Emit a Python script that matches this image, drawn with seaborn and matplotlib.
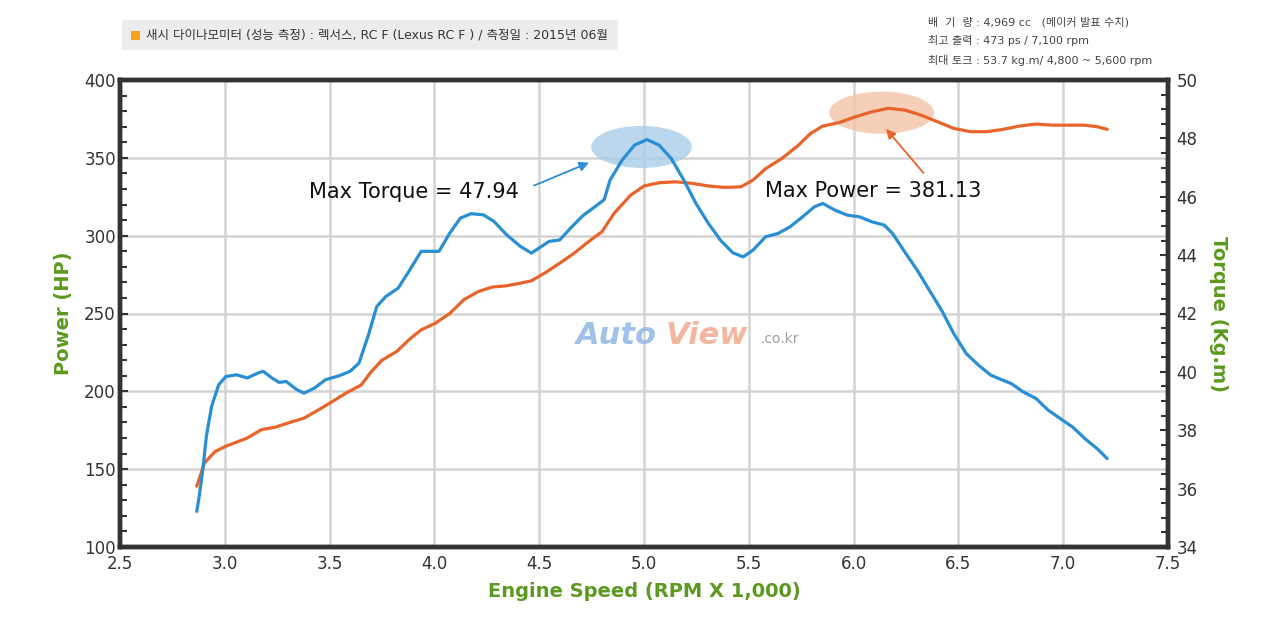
import matplotlib
matplotlib.use("Agg")
import matplotlib.pyplot as plt
import seaborn as sns
import pandas as pd
from matplotlib.patches import Ellipse, FancyBboxPatch, Rectangle
from matplotlib.ticker import MultipleLocator

# ---------------- data ----------------
rpm_power = [2.866, 2.903, 2.954, 3.005, 3.107, 3.175, 3.242, 3.31, 3.378, 3.446, 3.514, 3.58,
             3.65, 3.70, 3.75, 3.82, 3.886, 3.937, 4.005, 4.073, 4.14, 4.208, 4.276, 4.344,
             4.41, 4.463, 4.53, 4.598, 4.666, 4.734, 4.80, 4.857, 4.936, 5.0, 5.072, 5.15,
             5.23, 5.307, 5.385, 5.463, 5.52, 5.58, 5.658, 5.736, 5.795, 5.853, 5.93, 6.01,
             6.088, 6.166, 6.244, 6.32, 6.40, 6.478, 6.557, 6.635, 6.713, 6.79, 6.87, 6.947,
             7.025, 7.10, 7.162, 7.21]
power_hp = [139, 154, 161.4, 164.7, 170, 175.4, 177, 180, 182.8, 188, 193.5, 199,
            204, 212.8, 220, 225.6, 234, 239.5, 243.8, 250, 258.8, 264, 267, 267.8,
            269.5, 271, 276.3, 282.3, 288.7, 296, 302.6, 314.3, 326, 331.9, 334, 334.6,
            333.6, 331.9, 331, 331.4, 335.7, 343, 349.6, 358, 365.7, 370.4, 372.6, 376.4,
            379.6, 381.8, 380.7, 377.5, 373.2, 368.9, 366.8, 366.8, 368.3, 370.4, 371.7, 371,
            371, 371, 370, 368.3]

rpm_torque = [2.866, 2.878, 2.895, 2.912, 2.937, 2.971, 3.005, 3.056, 3.107, 3.158, 3.183, 3.225,
              3.259, 3.293, 3.344, 3.378, 3.429, 3.48, 3.547, 3.598, 3.64, 3.683, 3.725, 3.768,
              3.827, 3.878, 3.937, 3.971, 4.022, 4.073, 4.124, 4.175, 4.234, 4.285, 4.344, 4.41,
              4.463, 4.505, 4.547, 4.598, 4.649, 4.708, 4.768, 4.81, 4.838, 4.896, 4.955, 5.014,
              5.072, 5.13, 5.19, 5.248, 5.307, 5.365, 5.424, 5.473, 5.52, 5.58, 5.639, 5.697,
              5.756, 5.814, 5.853, 5.912, 5.97, 6.029, 6.088, 6.146, 6.186, 6.244, 6.303, 6.361,
              6.42, 6.478, 6.537, 6.596, 6.654, 6.713, 6.752, 6.81, 6.87, 6.928, 6.986, 7.045,
              7.104, 7.162, 7.21]
torque_kgm = [35.22, 35.74, 36.65, 37.79, 38.82, 39.56, 39.84, 39.9, 39.79, 39.96, 40.02, 39.79,
              39.64, 39.67, 39.39, 39.27, 39.45, 39.73, 39.87, 40.02, 40.3, 41.21, 42.24, 42.58,
              42.87, 43.44, 44.13, 44.13, 44.13, 44.75, 45.27, 45.42, 45.38, 45.15, 44.70, 44.30,
              44.07, 44.27, 44.47, 44.52, 44.92, 45.35, 45.67, 45.9, 46.57, 47.26, 47.77, 47.96,
              47.77, 47.31, 46.57, 45.77, 45.09, 44.51, 44.08, 43.94, 44.17, 44.63, 44.74, 44.97,
              45.31, 45.66, 45.77, 45.54, 45.37, 45.31, 45.14, 45.03, 44.74, 44.11, 43.49, 42.8,
              42.11, 41.31, 40.63, 40.23, 39.89, 39.71, 39.6, 39.31, 39.09, 38.69, 38.4, 38.11,
              37.71, 37.37, 37.03]

x_ticks = [2.5, 3.0, 3.5, 4.0, 4.5, 5.0, 5.5, 6.0, 6.5, 7.0, 7.5]
hp_ticks = [100, 150, 200, 250, 300, 350, 400]
tq_ticks = [34, 36, 38, 40, 42, 44, 46, 48, 50]

header_text = "새시 다이나모미터 (성능 측정) : 렉서스, RC F (Lexus RC F ) / 측정일 : 2015년 06월"
spec_lines = ["배  기  량 : 4,969 cc   (메이커 발표 수치)",
              "최고 출력 : 473 ps / 7,100 rpm",
              "최대 토크 : 53.7 kg.m/ 4,800 ~ 5,600 rpm"]
max_torque_label = "Max Torque = 47.94"
max_power_label = "Max Power = 381.13"

# ---------------- style ----------------
sns.set_theme(style="white")
plt.rcParams['font.family'] = ['DejaVu Sans', 'Noto Sans CJK KR']

ORANGE = "#e8642a"
BLUE = "#2a8ed3"
GREEN = "#5b9a1e"
DARK = "#333333"

fig = plt.figure(figsize=(12.8, 6.21), dpi=100)
fig.patch.set_facecolor("white")
ax = fig.add_axes([120 / 1280, 1 - 547 / 621, (1168 - 120) / 1280, (547 - 80) / 621])
ax2 = ax.twinx()

df_p = pd.DataFrame({"rpm": rpm_power, "hp": power_hp})
df_t = pd.DataFrame({"rpm": rpm_torque, "tq": torque_kgm})

sns.lineplot(data=df_p, x="rpm", y="hp", ax=ax, color=ORANGE, linewidth=2.3, zorder=5)
sns.lineplot(data=df_t, x="rpm", y="tq", ax=ax2, color=BLUE, linewidth=2.3, zorder=5)

ax.set_xlim(2.5, 7.5)
ax.set_ylim(100, 400)
ax2.set_ylim(34, 50)

ax.set_xticks(x_ticks)
ax.set_yticks(hp_ticks)
ax2.set_yticks(tq_ticks)
ax.xaxis.set_minor_locator(MultipleLocator(0.1))
ax.yaxis.set_minor_locator(MultipleLocator(10))
ax2.yaxis.set_minor_locator(MultipleLocator(0.5))

ax.set_xticklabels([f"{v:.1f}" for v in x_ticks])
ax.set_yticklabels([str(v) for v in hp_ticks])
ax2.set_yticklabels([str(v) for v in tq_ticks])

ax.grid(True, which="major", color="#d4d4d4", linewidth=1.8)
ax.set_axisbelow(True)

for a in (ax, ax2):
    for s in a.spines.values():
        s.set_color(DARK)
        s.set_linewidth(3.2)
        s.set_visible(True)

ax.tick_params(axis="both", which="both", direction="in", colors=DARK, labelcolor=DARK,
               labelsize=12, pad=3)
ax.tick_params(axis="both", which="major", length=6, width=1.5)
ax.tick_params(axis="both", which="minor", length=5, width=1.5)
ax.tick_params(axis="x", pad=6)
ax2.tick_params(axis="y", which="both", direction="in", colors=DARK, labelcolor=DARK,
                labelsize=12, pad=6)
ax2.tick_params(axis="y", which="major", length=6, width=1.5)
ax2.tick_params(axis="y", which="minor", length=5, width=1.5)

ax.set_xlabel("Engine Speed (RPM X 1,000)", color=GREEN, fontsize=14, fontweight="semibold",
              labelpad=6)
ax.set_ylabel("Power (HP)", color=GREEN, fontsize=14, fontweight="semibold", labelpad=8)
ax2.set_ylabel("Torque (Kg.m)", color=GREEN, fontsize=14, fontweight="semibold",
               rotation=270, labelpad=22)

# highlight ellipses
ax.add_patch(Ellipse((4.988, 357), 0.48, 27, facecolor="#a9cdea", edgecolor="none",
                     alpha=0.8, zorder=3))
ax.add_patch(Ellipse((6.134, 379), 0.50, 27, facecolor="#f4c3a8", edgecolor="none",
                     alpha=0.8, zorder=3))

# annotations
ax.annotate("", xy=(4.75, 347.6), xytext=(4.463, 331.5),
            arrowprops=dict(arrowstyle="-|>", color=BLUE, lw=1.3, mutation_scale=14), zorder=6)
ax.annotate("", xy=(6.146, 370), xytext=(6.342, 338.9),
            arrowprops=dict(arrowstyle="-|>", color=ORANGE, lw=1.3, mutation_scale=14), zorder=6)
ax.text(3.903, 328.3, max_torque_label, ha="center", va="center", fontsize=15,
        color="#111111", zorder=7)
ax.text(6.092, 328.9, max_power_label, ha="center", va="center", fontsize=15,
        color="#111111", zorder=7)

# watermark
fig.text(576 / 1280, 1 - 344 / 621, "Auto", fontsize=22, fontweight="bold", style="italic",
         color="#8fb8e6", alpha=0.85, ha="left", va="baseline")
fig.text(666 / 1280, 1 - 344 / 621, "View", fontsize=22, fontweight="bold", style="italic",
         color="#f2a98e", alpha=0.85, ha="left", va="baseline")
fig.text(760 / 1280, 1 - 343 / 621, ".co.kr", fontsize=10, color="#a0a0a0",
         ha="left", va="baseline")

# header box
fig.patches.append(FancyBboxPatch((122 / 1280, 1 - 50 / 621), (618 - 122) / 1280, 30 / 621,
                                  boxstyle="round,pad=0,rounding_size=0.003",
                                  transform=fig.transFigure, facecolor="#ececec",
                                  edgecolor="none", zorder=0))
fig.patches.append(Rectangle((131 / 1280, 1 - 40 / 621), 9 / 1280, 9 / 621,
                             transform=fig.transFigure, facecolor="#f5a21e",
                             edgecolor="none", zorder=1))
fig.text(146 / 1280, 1 - 35 / 621, header_text, fontsize=9, color="#333333",
         ha="left", va="center")

for i, line in enumerate(spec_lines):
    fig.text(928 / 1280, 1 - (22 + i * 19) / 621, line, fontsize=8, color="#444444",
             ha="left", va="center")

fig.savefig("out.png", dpi=100)
